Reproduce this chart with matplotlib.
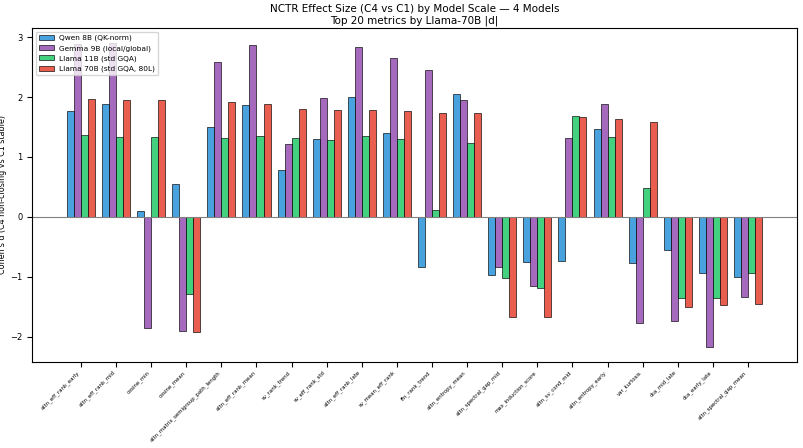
import numpy as np
import matplotlib.pyplot as plt

metrics = ["attn_eff_rank_early", "attn_eff_rank_mid", "cosine_min", "cosine_mean",
           "attn_matrix_semigroup_path_length", "attn_eff_rank_mean", "sv_rank_trend",
           "sv_eff_rank_std", "attn_eff_rank_late", "sv_mean_eff_rank", "ffn_rank_trend",
           "attn_entropy_mean", "attn_spectral_gap_mid", "max_induction_score",
           "attn_sv_cond_mid", "attn_entropy_early", "var_kurtosis", "cka_mid_late",
           "cka_early_late", "attn_spectral_gap_mean"]

qwen_8b = [1.76, 1.89, 0.09, 0.55, 1.50, 1.87, 0.79, 1.30, 2.00, 1.40,
           -0.84, 2.05, -0.97, -0.76, -0.74, 1.47, -0.77, -0.56, -0.94, -1.01]
gemma_9b = [2.88, 2.90, -1.86, -1.91, 2.59, 2.87, 1.22, 1.98, 2.83, 2.65,
            2.46, 1.95, -0.83, -1.16, 1.31, 1.88, -1.77, -1.74, -2.17, -1.34]
llama_11b = [1.36, 1.34, 1.33, -1.29, 1.32, 1.35, 1.32, 1.28, 1.35, 1.30,
             0.12, 1.23, -1.02, -1.18, 1.68, 1.33, 0.49, -1.36, -1.35, -0.94]
llama_70b = [1.96, 1.95, 1.95, -1.92, 1.91, 1.89, 1.80, 1.78, 1.78, 1.77,
             1.73, 1.73, -1.68, -1.68, 1.66, 1.63, 1.59, -1.51, -1.47, -1.46]

models = ["Qwen 8B (QK-norm)", "Gemma 9B (local/global)", "Llama 11B (std GQA)",
          "Llama 70B (std GQA, 80L)"]
colors = ["#3498db", "#9b59b6", "#2ecc71", "#e74c3c"]

fig, ax = plt.subplots(figsize=(8.04, 4.48), dpi=100)
fig.subplots_adjust(left=0.040, right=0.991, top=0.9375, bottom=0.192)

x = np.arange(len(metrics))
w = 0.2
for k, (vals, name, c) in enumerate(zip([qwen_8b, gemma_9b, llama_11b, llama_70b], models, colors)):
    ax.bar(x + (k - 1.5) * w, vals, w, label=name, color=c,
           edgecolor="black", linewidth=0.5, alpha=0.9)

ax.axhline(0, color="gray", linewidth=0.8)
ax.set_xticks(x)
ax.set_xticklabels(metrics, rotation=45, ha="right", fontsize=3.9)
ax.tick_params(axis="y", labelsize=6)
ax.tick_params(axis="x", pad=2)
ax.set_ylabel("Cohen's d (C4 non-closing vs C1 stable)", fontsize=5.8, labelpad=2)
ax.set_title("NCTR Effect Size (C4 vs C1) by Model Scale \u2014 4 Models\nTop 20 metrics by Llama-70B |d|",
             fontsize=7.5, pad=3)
ax.legend(loc="upper left", fontsize=5.3)

plt.savefig("out.png", dpi=100)
